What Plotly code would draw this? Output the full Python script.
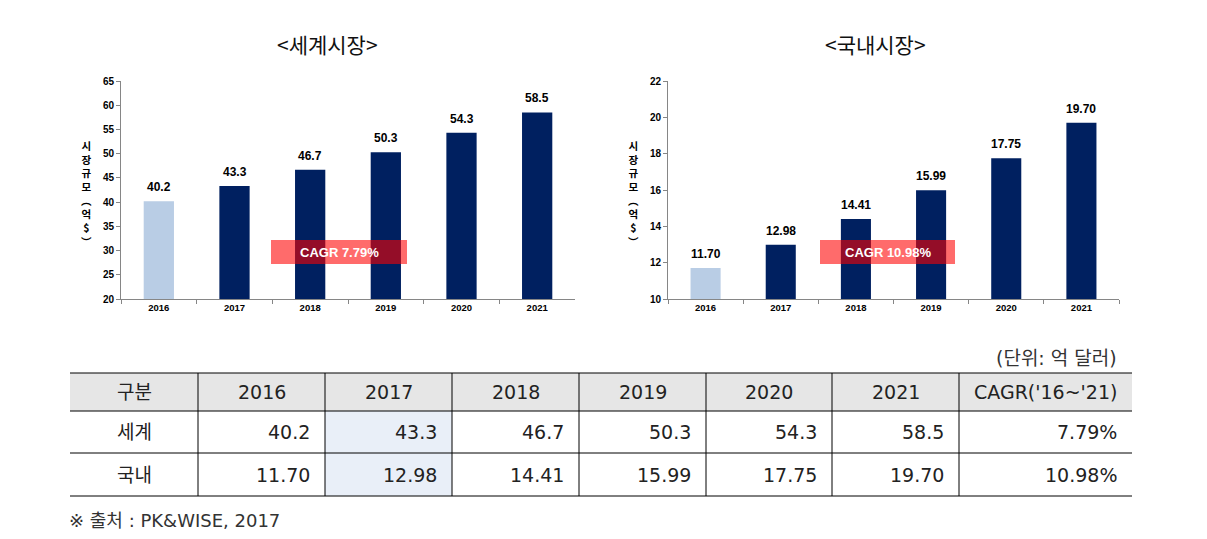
import plotly.graph_objects as go

# ---------------- data ----------------
years = ["2016", "2017", "2018", "2019", "2020", "2021"]
world = [40.2, 43.3, 46.7, 50.3, 54.3, 58.5]
domestic = [11.70, 12.98, 14.41, 15.99, 17.75, 19.70]
cagr_world = "7.79%"
cagr_domestic = "10.98%"
chart_titles = ["<세계시장>", "<국내시장>"]
y_title_chars = ["시", "장", "규", "모", "︵", "억", "$", "︶"]
row_labels = ["세계", "국내"]
header_first = "구분"
header_last = "CAGR('16~'21)"
unit_text = "(단위: 억 달러)"
source_text = "※ 출처 : PK&WISE, 2017"

W, H = 1207, 539
OFF = 8  # page body margin compensation


def px(x):
    return (x - OFF) / W


def py(y):
    return 1 - (y - OFF) / H


LIGHT = "#B9CDE5"
NAVY = "#002060"
AXIS = "#868686"
TICKFONT = dict(family="Liberation Sans, Arial, sans-serif", size=10, color="#000", weight="bold")
KFONT = "Noto Sans CJK KR, sans-serif"
TFONT = "DejaVu Sans, Noto Sans CJK KR, sans-serif"

colors = [LIGHT] + [NAVY] * (len(years) - 1)

fig = go.Figure()
fig.add_trace(go.Bar(x=years, y=world, marker=dict(color=colors, line=dict(width=0)),
                     width=0.4, xaxis="x", yaxis="y", showlegend=False, hoverinfo="x+y"))
fig.add_trace(go.Bar(x=years, y=domestic, marker=dict(color=colors, line=dict(width=0)),
                     width=0.4, xaxis="x2", yaxis="y2", showlegend=False, hoverinfo="x+y"))

ydom = [py(299), py(81)]
common_x = dict(type="category", showline=True, linecolor=AXIS, linewidth=1, ticks="outside",
                tickson="boundaries", ticklen=4, tickcolor=AXIS, showgrid=False, automargin=False,
                tickfont=dict(TICKFONT, size=9.5), range=[-0.5, 5.5], fixedrange=True)
common_y = dict(showline=True, linecolor=AXIS, linewidth=1, ticks="outside", ticklen=4, automargin=False,
                tickcolor=AXIS, showgrid=False, zeroline=False, tickfont=TICKFONT, fixedrange=True)

fig.update_layout(
    width=W, height=H, margin=dict(l=0, r=0, t=0, b=0, pad=0, autoexpand=False),
    paper_bgcolor="white", plot_bgcolor="white", bargap=0.6,
    xaxis=dict(common_x, domain=[px(121), px(575)], anchor="y"),
    yaxis=dict(common_y, domain=ydom, range=[20, 65], dtick=5, anchor="x"),
    xaxis2=dict(common_x, domain=[px(668), px(1119)], anchor="y2"),
    yaxis2=dict(common_y, domain=ydom, range=[10, 22], dtick=2, anchor="x2"),
)

ann = []
shapes = []

LABELFONT = dict(family="Liberation Sans, Arial, sans-serif", size=12, color="#000", weight="bold")
# data labels (category axes use serial index positions)
for i, v in enumerate(world):
    ann.append(dict(x=i, y=v, xref="x", yref="y", text=f"{v:.1f}", showarrow=False, yshift=14,
                    font=LABELFONT))
for i, v in enumerate(domestic):
    ann.append(dict(x=i, y=v, xref="x2", yref="y2", text=f"{v:.2f}", showarrow=False, yshift=14,
                    font=LABELFONT))

# titles
for t, cx in zip(chart_titles, [327, 875]):
    ann.append(dict(x=px(cx), y=py(44), xref="paper", yref="paper", text=t, showarrow=False,
                    xanchor="center", yanchor="middle", font=dict(family=KFONT, size=21, color="#111")))

# y-axis titles (stacked)
for cx in [87, 633]:
    ann.append(dict(x=px(cx), y=py(193), xref="paper", yref="paper", text="<br>".join(y_title_chars),
                    showarrow=False, xanchor="center", yanchor="middle",
                    font=dict(family=KFONT, size=10.5, color="#000", weight="bold")))

# CAGR boxes
for (x0, x1), label in zip([(271, 407), (820, 955)], [cagr_world, cagr_domestic]):
    shapes.append(dict(type="rect", xref="paper", yref="paper", x0=px(x0), x1=px(x1), y0=py(264), y1=py(240),
                       fillcolor="rgba(255,0,0,0.58)", line=dict(width=0), layer="above"))
    ann.append(dict(x=px((x0 + x1) / 2), y=py(252), xref="paper", yref="paper", text="CAGR " + label,
                    showarrow=False, xanchor="center", yanchor="middle",
                    font=dict(family="Liberation Sans, Arial, sans-serif", size=13, color="white", weight="bold")))

# ---------------- table ----------------
col_edges = [70, 198, 325, 452, 579, 706, 832, 959, 1132]
row_edges = [373, 411, 453, 496]
tcolor = "#222"

shapes.append(dict(type="rect", xref="paper", yref="paper", x0=px(col_edges[0]), x1=px(col_edges[-1]),
                   y0=py(row_edges[1]), y1=py(row_edges[0]), fillcolor="#E6E6E6", line=dict(width=0), layer="below"))
shapes.append(dict(type="rect", xref="paper", yref="paper", x0=px(col_edges[2]), x1=px(col_edges[3]),
                   y0=py(row_edges[3]), y1=py(row_edges[1]), fillcolor="#E9EFF8", line=dict(width=0), layer="below"))
for ry in row_edges:
    shapes.append(dict(type="line", xref="paper", yref="paper", x0=px(col_edges[0]), x1=px(col_edges[-1]),
                       y0=py(ry), y1=py(ry), line=dict(color="#000", width=1)))
for cx in col_edges[1:-1]:
    shapes.append(dict(type="line", xref="paper", yref="paper", x0=px(cx), x1=px(cx),
                       y0=py(row_edges[0]), y1=py(row_edges[-1]), line=dict(color="#000", width=1)))

header = [header_first] + years + [header_last]
for i, h in enumerate(header):
    ann.append(dict(x=px((col_edges[i] + col_edges[i + 1]) / 2), y=py((row_edges[0] + row_edges[1]) / 2),
                    xref="paper", yref="paper", text=h, showarrow=False, xanchor="center", yanchor="middle",
                    font=dict(family=TFONT, size=19, color=tcolor)))

rows = [
    [f"{v:.1f}" for v in world] + [cagr_world],
    [f"{v:.2f}" for v in domestic] + [cagr_domestic],
]
for r, (lab, vals) in enumerate(zip(row_labels, rows)):
    yc = py((row_edges[r + 1] + row_edges[r + 2]) / 2)
    ann.append(dict(x=px((col_edges[0] + col_edges[1]) / 2), y=yc, xref="paper", yref="paper", text=lab,
                    showarrow=False, xanchor="center", yanchor="middle",
                    font=dict(family=TFONT, size=19, color=tcolor)))
    for c, v in enumerate(vals):
        ann.append(dict(x=px(col_edges[c + 2] - 13), y=yc, xref="paper", yref="paper", text=v,
                        showarrow=False, xanchor="right", yanchor="middle",
                        font=dict(family=TFONT, size=19, color=tcolor)))

ann.append(dict(x=px(1119), y=py(358), xref="paper", yref="paper", text=unit_text, showarrow=False,
                xanchor="right", yanchor="middle", font=dict(family=TFONT, size=19, color="#333")))
ann.append(dict(x=px(67), y=py(520), xref="paper", yref="paper", text=source_text, showarrow=False,
                xanchor="left", yanchor="middle", font=dict(family=TFONT, size=18, color="#333")))

fig.update_layout(annotations=ann, shapes=shapes)
fig.write_html("out.html")
